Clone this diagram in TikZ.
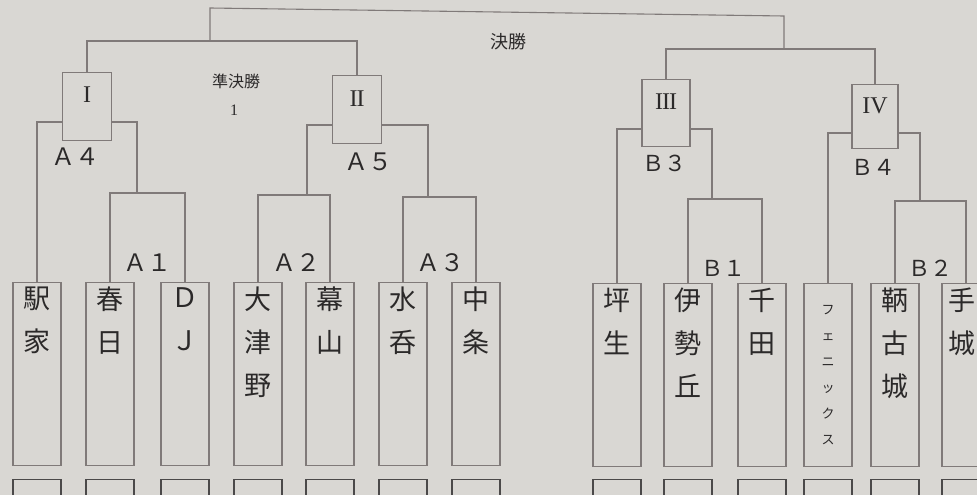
\documentclass[tikz,border=0pt]{standalone}
\usepackage{fontspec}
\newfontfamily\jp{Noto Sans CJK JP}
\newfontfamily\rmn{Liberation Serif}
\definecolor{bg}{HTML}{D9D7D3}
\definecolor{ln}{HTML}{807A79}
\definecolor{ink}{HTML}{2B2929}
\begin{document}
\begin{tikzpicture}[x=1pt,y=-1pt,
  line/.style={draw=ln, line width=1.1pt},
  team/.style={draw=ln, line width=1.1pt, fill=bg, minimum width=48pt, minimum height=183pt, inner sep=0pt, anchor=north},
  tname/.style={font=\jp\fontsize{27}{43}\selectfont, text=ink, align=center, anchor=north, inner sep=0pt},
  small/.style={font=\jp\fontsize{13}{26}\selectfont, text=ink, align=center, anchor=north, inner sep=0pt},
  slot/.style={draw=ink!85, line width=1.4pt, minimum width=48pt, minimum height=30pt, anchor=north, inner sep=0pt},
  rbox/.style={draw=ln, line width=1.1pt, fill=bg, minimum width=48pt, minimum height=68pt, anchor=north, inner sep=0pt},
  roman/.style={font=\rmn\fontsize{24}{24}\selectfont, text=ink, anchor=base, inner sep=0pt},
  seedA/.style={font=\jp\fontsize{24}{24}\selectfont, text=ink, inner sep=0pt},
  seedB/.style={font=\jp\fontsize{22}{22}\selectfont, text=ink, inner sep=0pt},
  title/.style={font=\jp\fontsize{16}{16}\selectfont, text=ink, inner sep=0pt},
]
\fill[bg] (0,0) rectangle (977,495);
\useasboundingbox (0,0) rectangle (977,495);

% team boxes
\node[team] (t1) at (37,282) {};
\node[team] (t2) at (110,282) {};
\node[team] (t3) at (185,282) {};
\node[team] (t4) at (258,282) {};
\node[team] (t5) at (330,282) {};
\node[team] (t6) at (403,282) {};
\node[team] (t7) at (476,282) {};
\node[team] (t8) at (617,283) {};
\node[team] (t9) at (688,283) {};
\node[team] (t10) at (762,283) {};
\node[team] (t11) at (828,283) {};
\node[team] (t12) at (895,283) {};
\node[team] (t13) at (966,283) {};

% team names
\node[tname] (n1) at (37,287) {駅\\家};
\node[tname] (n2) at (110,287) {春\\日};
\node[tname] (n3) at (185,287) {Ｄ\\Ｊ};
\node[tname] (n4) at (258,287) {大\\津\\野};
\node[tname] (n5) at (330,287) {幕\\山};
\node[tname] (n6) at (403,287) {水\\呑};
\node[tname] (n7) at (476,287) {中\\条};
\node[tname] (n8) at (617,288) {坪\\生};
\node[tname] (n9) at (688,288) {伊\\勢\\丘};
\node[tname] (n10) at (762,288) {千\\田};
\node[small] (n11) at (828,305) {フ\\ェ\\ニ\\ッ\\ク\\ス};
\node[tname] (n12) at (895,288) {鞆\\古\\城};
\node[tname] (n13) at (962,288) {手\\城};

% bottom slots
\foreach \x/\i in {37/1,110/2,185/3,258/4,330/5,403/6,476/7,617/8,688/9,762/10,828/11,895/12,966/13}
  \node[slot] (s\i) at (\x,479) {};

% bracket coordinates
\coordinate (a1) at (147,193);
\coordinate (a2) at (296,195);
\coordinate (a3) at (440,197);
\coordinate (a1j) at (137,193);
\coordinate (a2j) at (307,195);
\coordinate (a3j) at (428,197);
\coordinate (a4) at (87,122);
\coordinate (a5) at (357,125);
\coordinate (b1) at (726,199);
\coordinate (b2) at (932,201);
\coordinate (b1j) at (712,199);
\coordinate (b2j) at (920,201);
\coordinate (b3) at (666,129);
\coordinate (b4) at (875,133);
\coordinate (sf1) at (210,41);
\coordinate (sf2) at (784,49);
\coordinate (f1) at (210,8);
\coordinate (f2) at (784,16);

% first round
\draw[line] (t2.north) |- (a1) -| (t3.north);
\draw[line] (t4.north) |- (a2) -| (t5.north);
\draw[line] (t6.north) |- (a3) -| (t7.north);
\draw[line] (t9.north) |- (b1) -| (t10.north);
\draw[line] (t12.north) |- (b2) -| (t13.north);
% second round
\draw[line] (t1.north) |- (a4) -| (a1j);
\draw[line] (a2j) |- (a5) -| (a3j);
\draw[line] (t8.north) |- (b3) -| (b1j);
\draw[line] (t11.north) |- (b4) -| (b2j);

% round boxes
\node[rbox, minimum width=49pt] (k1) at (87,72) {};
\node[rbox, minimum width=49pt] (k2) at (357,75) {};
\node[rbox, minimum height=67pt] (k3) at (666,79) {};
\node[rbox, minimum width=46pt, minimum height=64pt] (k4) at (875,84) {};
\node[roman] (r1) at (87,102) {I};
\node[roman] (r2) at (357,106) {I\kern-1pt I};
\node[roman] (r3) at (666,110) {I\kern-1pt I\kern-1pt I};
\node[roman] (r4) at (875,113) {IV};

% semifinals and final
\draw[line] (k1.north) |- (sf1) -| (k2.north);
\draw[line] (k3.north) |- (sf2) -| (k4.north);
\draw[line] (sf1) -- (f1) -- (f2) -- (sf2);

% seed labels
\node[seedA] (lA4) at (75,157) {Ａ４};
\node[seedA] (lA5) at (368,162) {Ａ５};
\node[seedA] (lA1) at (147,263) {Ａ１};
\node[seedA] (lA2) at (296,263) {Ａ２};
\node[seedA] (lA3) at (440,263) {Ａ３};
\node[seedB] (lB3) at (664,163) {Ｂ３};
\node[seedB] (lB4) at (873,167) {Ｂ４};
\node[seedB] (lB1) at (723,268) {Ｂ１};
\node[seedB] (lB2) at (930,268) {Ｂ２};

% titles
\node[title, font=\jp\fontsize{18}{18}\selectfont] (fin) at (508,42) {決勝};
\node[title] (semi) at (236,81) {準決勝};
\node[title, font=\rmn\fontsize{16}{16}\selectfont] (one) at (234,110) {1};
\end{tikzpicture}
\end{document}
